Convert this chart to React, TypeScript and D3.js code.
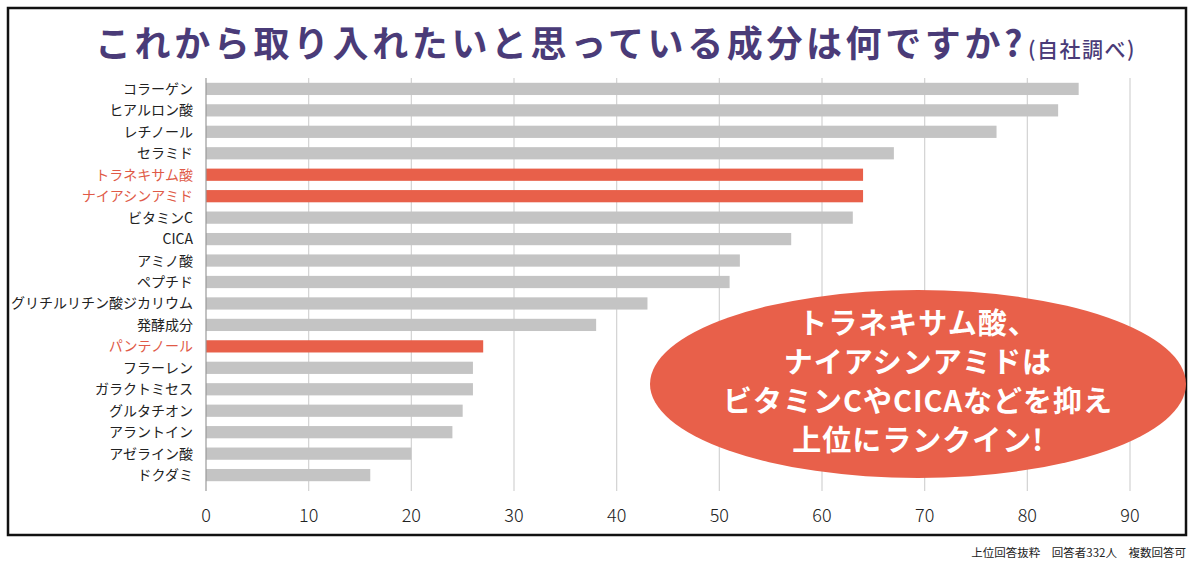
import React from "react";
import * as d3 from "d3";

const categories = ["コラーゲン","ヒアルロン酸","レチノール","セラミド","トラネキサム酸","ナイアシンアミド","ビタミンC","CICA","アミノ酸","ペプチド","グリチルリチン酸ジカリウム","発酵成分","パンテノール","フラーレン","ガラクトミセス","グルタチオン","アラントイン","アゼライン酸","ドクダミ"];
const values = [85,83,77,67,64,64,63,57,52,51,43,38,27,26,26,25,24,20,16];
const highlighted = ["トラネキサム酸","ナイアシンアミド","パンテノール"];
const ticks = [0,10,20,30,40,50,60,70,80,90];
const calloutLines = ["トラネキサム酸、","ナイアシンアミドは","ビタミンCやCICAなどを抑え","上位にランクイン!"];
const title = "これから取り入れたいと思っている成分は何ですか?";
const subtitle = "(自社調べ)";
const footnote = "上位回答抜粋　回答者332人　複数回答可";

const FONT = "'Noto Sans CJK JP', 'Noto Sans', sans-serif";

export default function App() {
  const W = 1200, H = 567;
  const x = d3.scaleLinear().domain([0, 90]).range([206, 1130]);
  const y = d3.scaleBand().domain(categories).range([78.5, 485.5]).paddingInner(0.43).paddingOuter(0.2);
  const gray = "#c4c4c4";
  const orange = "#e8604a";
  return (
    <svg width={W} height={H} style={{ position: "absolute", left: 0, top: 0, background: "#fff" }}>
      <rect x={0} y={0} width={W} height={H} fill="#fff" />
      <rect x={8} y={8} width={1178} height={527} fill="none" stroke="#111" strokeWidth={2.5} />
      <text x={95} y={57} fontFamily={FONT} fontWeight={700} fontSize={36} fill="#4a3b78" letterSpacing={3.6}>
        {title}
        <tspan fontSize={21} fontWeight={500} dx={2} letterSpacing={1.5}>{subtitle}</tspan>
      </text>
      {ticks.slice(1).map((t) => (
        <line key={t} x1={x(t)} x2={x(t)} y1={78} y2={491} stroke="#d2d2d2" strokeWidth={1.2} />
      ))}
      {categories.map((c, i) => (
        <rect key={c} x={x(0)} y={y(c)} width={x(values[i]) - x(0)} height={y.bandwidth()}
          fill={highlighted.includes(c) ? orange : gray} />
      ))}
      <line x1={x(0)} x2={x(0)} y1={78} y2={491} stroke="#999" strokeWidth={1.2} />
      {categories.map((c) => (
        <text key={c} x={193} y={(y(c) as number) + y.bandwidth() / 2} dy="0.36em" textAnchor="end"
          fontFamily={FONT} fontSize={14} fill={highlighted.includes(c) ? "#e05a47" : "#222"}>{c}</text>
      ))}
      {ticks.map((t) => (
        <text key={t} x={x(t)} y={522} textAnchor="middle" fontFamily={FONT} fontSize={18} fontWeight={300} fill="#222">{t}</text>
      ))}
      <ellipse cx={918} cy={384} rx={268} ry={94} fill={orange} />
      {calloutLines.map((l, i) => (
        <text key={i} x={918} y={334 + i * 39} textAnchor="middle" fontFamily={FONT} fontWeight={700}
          fontSize={29} letterSpacing={1} fill="#fff">{l}</text>
      ))}
      <text x={1186} y={557} textAnchor="end" fontFamily={FONT} fontSize={11.5} fill="#222">{footnote}</text>
    </svg>
  );
}
